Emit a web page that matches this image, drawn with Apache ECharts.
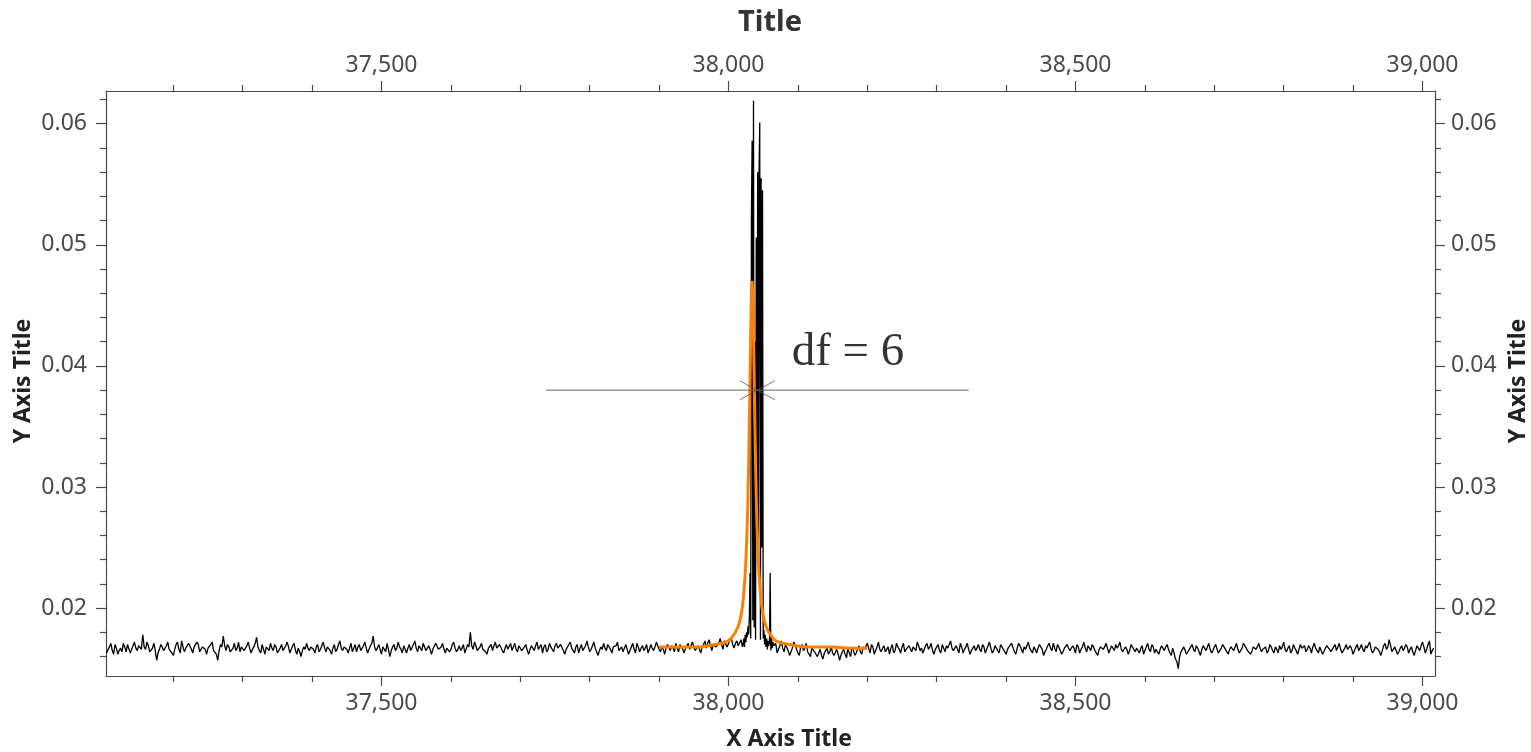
<!DOCTYPE html>
<html><head><meta charset="utf-8">
<script src="https://cdn.jsdelivr.net/npm/echarts@6/dist/echarts.min.js"></script>
<style>html,body{margin:0;padding:0;background:#fff}#c{width:1531px;height:752px}</style>
</head><body><div id="c"></div>
<script>
// ---- axis ranges & ticks ----
const xRange = [37103, 39018];
const yRange = [0.0144, 0.0627];
const xTickValues = [37500, 38000, 38500, 39000];
const yTickValues = [0.02, 0.03, 0.04, 0.05, 0.06];

// ---- measured spectrum (black) ----
const noiseLeftStart = 37104, noiseStep = 2;
const noiseLeft = [
0.0163,0.0166,0.0168,0.0171,0.0165,0.0162,0.0170,0.0167,0.0162,0.0165,0.0167,0.0164,0.0171,0.0168,0.0164,0.0170,0.0169,0.0163,0.0166,0.0169,
0.0172,0.0167,0.0165,0.0169,0.0170,0.0166,0.0178,0.0168,0.0166,0.0172,0.0169,0.0164,0.0163,0.0167,0.0171,0.0165,0.0157,0.0163,0.0166,0.0170,
0.0168,0.0165,0.0164,0.0169,0.0172,0.0166,0.0167,0.0163,0.0161,0.0166,0.0170,0.0172,0.0166,0.0163,0.0173,0.0168,0.0164,0.0167,0.0168,0.0171,
0.0171,0.0166,0.0163,0.0168,0.0167,0.0172,0.0170,0.0164,0.0165,0.0168,0.0169,0.0166,0.0162,0.0167,0.0168,0.0170,0.0172,0.0165,0.0166,0.0162,
0.0157,0.0165,0.0170,0.0168,0.0177,0.0169,0.0165,0.0170,0.0168,0.0164,0.0163,0.0167,0.0171,0.0165,0.0167,0.0172,0.0164,0.0168,0.0169,0.0165,
0.0166,0.0169,0.0172,0.0167,0.0163,0.0166,0.0168,0.0171,0.0176,0.0168,0.0165,0.0163,0.0170,0.0166,0.0162,0.0168,0.0167,0.0165,0.0171,0.0167,
0.0165,0.0170,0.0168,0.0163,0.0164,0.0167,0.0170,0.0165,0.0166,0.0169,0.0172,0.0168,0.0163,0.0166,0.0169,0.0171,0.0165,0.0162,0.0167,0.0164,
0.0160,0.0165,0.0168,0.0166,0.0171,0.0167,0.0165,0.0168,0.0169,0.0166,0.0163,0.0168,0.0170,0.0164,0.0166,0.0169,0.0172,0.0167,0.0164,0.0168,
0.0168,0.0165,0.0162,0.0167,0.0170,0.0164,0.0166,0.0170,0.0173,0.0167,0.0165,0.0168,0.0169,0.0166,0.0163,0.0167,0.0171,0.0164,0.0167,0.0170,
0.0164,0.0168,0.0170,0.0165,0.0166,0.0169,0.0172,0.0167,0.0163,0.0166,0.0169,0.0171,0.0177,0.0168,0.0165,0.0167,0.0170,0.0166,0.0162,0.0168,
0.0167,0.0164,0.0171,0.0166,0.0160,0.0165,0.0168,0.0170,0.0165,0.0167,0.0172,0.0168,0.0166,0.0163,0.0169,0.0166,0.0163,0.0167,0.0170,0.0165,
0.0166,0.0170,0.0173,0.0167,0.0164,0.0169,0.0168,0.0165,0.0171,0.0168,0.0165,0.0167,0.0169,0.0166,0.0162,0.0166,0.0167,0.0171,0.0170,0.0166,
0.0165,0.0168,0.0171,0.0166,0.0163,0.0167,0.0168,0.0164,0.0166,0.0170,0.0172,0.0167,0.0164,0.0166,0.0169,0.0165,0.0167,0.0170,0.0163,0.0166,
0.0170,0.0168,0.0180,0.0169,0.0166,0.0172,0.0169,0.0165,0.0164,0.0168,0.0171,0.0166,0.0167,0.0164,0.0162,0.0167,0.0168,0.0170,0.0165,0.0169,
0.0172,0.0167,0.0166,0.0170,0.0169,0.0165,0.0163,0.0167,0.0170,0.0166,0.0167,0.0171,0.0165,0.0168,0.0171,0.0166,0.0164,0.0169,0.0168,0.0165,
0.0166,0.0168,0.0170,0.0165,0.0162,0.0166,0.0169,0.0167,0.0165,0.0169,0.0172,0.0166,0.0167,0.0170,0.0163,0.0168,0.0170,0.0164,0.0166,0.0171,
0.0168,0.0166,0.0164,0.0169,0.0171,0.0167,0.0166,0.0170,0.0169,0.0165,0.0162,0.0166,0.0167,0.0170,0.0172,0.0167,0.0165,0.0163,0.0168,0.0170,
0.0163,0.0167,0.0170,0.0165,0.0166,0.0169,0.0173,0.0168,0.0164,0.0166,0.0169,0.0172,0.0167,0.0164,0.0161,0.0165,0.0168,0.0166,0.0171,0.0167,
0.0165,0.0170,0.0169,0.0166,0.0163,0.0168,0.0167,0.0169,0.0172,0.0165,0.0166,0.0168,0.0164,0.0167,0.0170,0.0166,0.0162,0.0165,0.0168,0.0171,
0.0166,0.0163,0.0171,0.0168,0.0164,0.0167,0.0169,0.0165,0.0167,0.0170,0.0163,0.0166,0.0170,0.0167,0.0165,0.0168,0.0172,0.0169,0.0166,0.0164,
0.0168,0.0166,0.0162,0.0167,0.0170,0.0168,0.0165,0.0169,0.0167,0.0164,0.0171,0.0167,0.0164,0.0170,0.0169,0.0166,0.0163,0.0167,0.0168,0.0171,
0.0166,0.0169,0.0172,0.0168,0.0165,0.0167,0.0169,0.0166,0.0163,0.0168,0.0170,0.0173,0.0167,0.0171,0.0174,0.0169,0.0165,0.0170,0.0171,0.0168,
0.0168,0.0171,0.0175,0.0170,0.0166,0.0173,0.0172,0.0168,0.0169,0.0174,0.0176,0.0170,0.0167,0.0171,0.0173,0.0169,0.0170,0.0174,0.0168
];
const peakStart = 38021, peakStep = 1;
const peakValues = [
0.0170,0.0175,0.0168,0.0178,0.0172,0.0180,0.0176,0.0185,0.0178,0.0192,
0.0229,0.0175,0.0523,0.0586,0.0190,0.0619,0.0184,0.0420,0.0174,0.0506,
0.0260,0.0560,0.0250,0.0560,0.0601,0.0174,0.0555,0.0250,0.0545,0.0175,
0.0182,0.0170,0.0178,0.0168,0.0175,0.0166,0.0173,0.0169,0.0171,0.0229,
0.0165,0.0176,0.0167,0.0172,0.0169
];
const noiseRightStart = 38066;
const noiseRight = [
0.0168,0.0171,0.0163,0.0166,0.0169,0.0173,0.0167,0.0164,0.0170,0.0169,0.0165,0.0161,0.0164,0.0167,0.0172,0.0170,0.0166,0.0163,0.0161,0.0168,
0.0170,0.0165,0.0167,0.0171,0.0164,0.0162,0.0160,0.0167,0.0166,0.0164,0.0162,0.0160,0.0163,0.0166,0.0161,0.0158,0.0163,0.0165,0.0167,0.0162,
0.0164,0.0168,0.0163,0.0161,0.0160,0.0166,0.0162,0.0157,0.0161,0.0164,0.0166,0.0162,0.0159,0.0167,0.0163,0.0160,0.0168,0.0165,0.0161,0.0163,
0.0166,0.0169,0.0164,0.0162,0.0168,0.0166,0.0165,0.0171,0.0167,0.0163,0.0170,0.0168,0.0162,0.0165,0.0168,0.0172,0.0166,0.0164,0.0167,0.0169,
0.0164,0.0166,0.0168,0.0162,0.0167,0.0170,0.0163,0.0165,0.0171,0.0168,0.0166,0.0163,0.0168,0.0171,0.0164,0.0166,0.0166,0.0169,0.0170,0.0164,
0.0168,0.0167,0.0165,0.0172,0.0169,0.0165,0.0167,0.0163,0.0164,0.0169,0.0171,0.0166,0.0168,0.0171,0.0165,0.0162,0.0166,0.0168,0.0170,0.0165,
0.0163,0.0170,0.0167,0.0164,0.0169,0.0167,0.0168,0.0173,0.0167,0.0165,0.0164,0.0169,0.0166,0.0163,0.0171,0.0168,0.0163,0.0166,0.0168,0.0171,
0.0166,0.0162,0.0165,0.0167,0.0169,0.0165,0.0167,0.0170,0.0166,0.0164,0.0170,0.0168,0.0163,0.0166,0.0169,0.0172,0.0167,0.0163,0.0165,0.0169,
0.0167,0.0165,0.0163,0.0170,0.0168,0.0166,0.0165,0.0162,0.0166,0.0168,0.0169,0.0171,0.0167,0.0164,0.0162,0.0167,0.0171,0.0169,0.0166,0.0163,
0.0168,0.0166,0.0169,0.0172,0.0167,0.0165,0.0163,0.0168,0.0166,0.0163,0.0167,0.0170,0.0168,0.0166,0.0161,0.0164,0.0166,0.0169,0.0171,0.0167,
0.0165,0.0171,0.0167,0.0164,0.0170,0.0168,0.0165,0.0162,0.0164,0.0167,0.0168,0.0170,0.0167,0.0165,0.0166,0.0169,0.0167,0.0163,0.0170,0.0168,
0.0163,0.0166,0.0168,0.0172,0.0167,0.0164,0.0169,0.0167,0.0165,0.0170,0.0168,0.0165,0.0164,0.0161,0.0166,0.0168,0.0169,0.0166,0.0168,0.0171,
0.0167,0.0163,0.0166,0.0169,0.0168,0.0165,0.0170,0.0167,0.0169,0.0172,0.0166,0.0164,0.0165,0.0168,0.0166,0.0162,0.0165,0.0170,0.0168,0.0166,
0.0164,0.0167,0.0166,0.0163,0.0167,0.0169,0.0162,0.0165,0.0168,0.0171,0.0166,0.0164,0.0170,0.0168,0.0163,0.0166,0.0165,0.0162,0.0166,0.0169,
0.0167,0.0165,0.0168,0.0170,0.0166,0.0163,0.0161,0.0167,0.0163,0.0158,0.0156,0.0150,0.0160,0.0164,0.0166,0.0168,0.0165,0.0162,0.0164,0.0166,
0.0168,0.0170,0.0166,0.0164,0.0169,0.0167,0.0164,0.0161,0.0166,0.0169,0.0167,0.0165,0.0168,0.0171,0.0166,0.0163,0.0165,0.0168,0.0170,0.0166,
0.0163,0.0164,0.0167,0.0170,0.0168,0.0166,0.0165,0.0162,0.0166,0.0168,0.0167,0.0165,0.0168,0.0171,0.0166,0.0163,0.0165,0.0167,0.0171,0.0169,
0.0167,0.0165,0.0166,0.0162,0.0164,0.0168,0.0169,0.0166,0.0168,0.0171,0.0167,0.0164,0.0166,0.0167,0.0168,0.0163,0.0165,0.0170,0.0168,0.0165,
0.0163,0.0168,0.0166,0.0163,0.0169,0.0166,0.0168,0.0172,0.0166,0.0164,0.0167,0.0169,0.0163,0.0165,0.0170,0.0167,0.0165,0.0162,0.0166,0.0170,
0.0167,0.0166,0.0169,0.0164,0.0166,0.0169,0.0167,0.0163,0.0168,0.0171,0.0167,0.0165,0.0163,0.0168,0.0165,0.0162,0.0164,0.0167,0.0169,0.0170,
0.0166,0.0164,0.0166,0.0168,0.0170,0.0165,0.0168,0.0171,0.0166,0.0163,0.0164,0.0167,0.0170,0.0166,0.0165,0.0169,0.0166,0.0162,0.0165,0.0168,
0.0170,0.0165,0.0167,0.0170,0.0166,0.0164,0.0169,0.0167,0.0170,0.0172,0.0166,0.0163,0.0165,0.0168,0.0169,0.0166,0.0164,0.0161,0.0165,0.0169,
0.0171,0.0166,0.0168,0.0174,0.0169,0.0164,0.0166,0.0168,0.0165,0.0162,0.0164,0.0167,0.0169,0.0165,0.0167,0.0170,0.0168,0.0163,0.0166,0.0168,
0.0164,0.0161,0.0165,0.0169,0.0167,0.0165,0.0169,0.0172,0.0168,0.0163,0.0166,0.0170,0.0173,0.0162,0.0165,0.0167
];

// ---- fitted curve (orange) ----
const fitX = [37900,37910,37920,37930,37940,37950,37960,37970,37980,37990,38000,38005,38010,38014,38017,
  38020,38022,38024,38025,38026,38027,38028,38029,38030,38031,38032,38033,38034,38035,38036,38037,38038,
  38039,38040,38041,38042,38043,38044,38046,38048,38051,38054,38058,38063,38068,38078,38088,38098,38110,
  38130,38150,38175,38200];
const fitY = [0.0168,0.0168,0.0168,0.0168,0.0168,0.0168,0.0168,0.0169,0.0170,0.0171,0.0173,0.0176,0.0180,0.0185,0.0191,
  0.0201,0.0212,0.0228,0.0239,0.0252,0.0269,0.0291,0.0319,0.0352,0.0390,0.0428,0.0458,0.0470,0.0458,0.0428,0.0390,0.0352,
  0.0319,0.0291,0.0269,0.0252,0.0239,0.0228,0.0212,0.0201,0.0191,0.0185,0.0180,0.0176,0.0173,0.0171,0.0170,0.0169,0.0168,
  0.0168,0.0168,0.0167,0.0167];

// ---- annotation ----
const markerLineX = [37737, 38346];
const markerY = 0.038;
const markerX = 38041.5;
const markerText = 'df = 6';
const markerTextPos = [38091, 0.0411];

const chartTitle = 'Title', xTitle = 'X Axis Title', yTitle = 'Y Axis Title';

function seg(start, step, arr) { return arr.map((v, i) => [start + i * step, v]); }
const blackData = seg(noiseLeftStart, noiseStep, noiseLeft)
  .concat(seg(peakStart, peakStep, peakValues))
  .concat(seg(noiseRightStart, noiseStep, noiseRight));
const fitData = fitX.map((x, i) => [x, fitY[i]]);

const axisColor = '#4a4a4a';
const labelFont = { fontFamily: 'Noto Sans', fontSize: 23, color: '#4a4a4a' };
function fmtX(v) { return xTickValues.indexOf(v) >= 0 ? String(v).replace(/(\d)(\d{3})$/, '$1,$2') : ''; }
function fmtY(v) { return v.toFixed(2); }

function xAxis(pos, margin) {
  return {
    type: 'value', position: pos, min: xRange[0], max: xRange[1], splitNumber: 4,
    axisLine: { show: true, onZero: false, lineStyle: { color: axisColor, width: 1.2 } },
    axisTick: { show: true, length: 10, customValues: xTickValues, lineStyle: { color: axisColor, width: 1.2 } },
    minorTick: { show: true, splitNumber: 5, length: 6, lineStyle: { color: axisColor, width: 1.2 } },
    axisLabel: Object.assign({ customValues: xTickValues, formatter: fmtX, margin: margin }, labelFont),
    splitLine: { show: false }, minorSplitLine: { show: false }
  };
}
function yAxis(pos, margin) {
  return {
    type: 'value', position: pos, min: yRange[0], max: yRange[1], splitNumber: 5,
    axisLine: { show: true, onZero: false, lineStyle: { color: axisColor, width: 1.2 } },
    axisTick: { show: true, length: 10, customValues: yTickValues, lineStyle: { color: axisColor, width: 1.2 } },
    minorTick: { show: true, splitNumber: 5, length: 6, lineStyle: { color: axisColor, width: 1.2 } },
    axisLabel: Object.assign({ customValues: yTickValues, formatter: fmtY, margin: margin }, labelFont),
    splitLine: { show: false }, minorSplitLine: { show: false }
  };
}

const chart = echarts.init(document.getElementById('c'), null, { renderer: 'canvas' });
chart.setOption({
  animation: false,
  backgroundColor: '#fff',
  grid: { left: 106, right: 96, top: 91, bottom: 76, containLabel: false },
  xAxis: [xAxis('bottom', 16), xAxis('top', 14)],
  yAxis: [yAxis('left', 19), yAxis('right', 16)],
  graphic: [
    { type: 'text', x: 770, y: 23, style: { text: chartTitle, font: 'bold 29px "Noto Sans"', fill: '#333', align: 'center', verticalAlign: 'middle' } },
    { type: 'text', x: 789, y: 739, style: { text: xTitle, font: 'bold 23px "Noto Sans"', fill: '#222', align: 'center', verticalAlign: 'middle' } },
    { type: 'text', x: 23, y: 381, rotation: Math.PI / 2, style: { text: yTitle, font: 'bold 23px "Noto Sans"', fill: '#222', align: 'center', verticalAlign: 'middle' } },
    { type: 'text', x: 1518, y: 381, rotation: Math.PI / 2, style: { text: yTitle, font: 'bold 23px "Noto Sans"', fill: '#222', align: 'center', verticalAlign: 'middle' } }
  ],
  series: [
    { type: 'line', name: 'data', xAxisIndex: 0, yAxisIndex: 0, data: blackData, symbol: 'none', z: 2,
      lineStyle: { color: '#000', width: 1.3 } },
    { type: 'line', name: 'fit', xAxisIndex: 0, yAxisIndex: 0, data: fitData, symbol: 'none', z: 3,
      lineStyle: { color: '#ff8000', width: 3 } },
    { type: 'line', name: 'width', xAxisIndex: 0, yAxisIndex: 0, symbol: 'none', z: 4,
      data: markerLineX.map(x => [x, markerY]), lineStyle: { color: '#666', width: 1 } },
    { type: 'scatter', name: 'star', xAxisIndex: 0, yAxisIndex: 0, z: 5,
      data: [[markerX, markerY]], symbol: 'path://M0 0L35 19M0 19L35 0', symbolSize: [35, 19],
      itemStyle: { color: 'transparent', borderColor: '#555', borderWidth: 1 } },
    { type: 'scatter', name: 'label', xAxisIndex: 0, yAxisIndex: 0, z: 6,
      data: [markerTextPos], symbolSize: 0,
      label: { show: true, formatter: markerText, position: 'right', distance: 0,
        fontFamily: 'Liberation Serif', fontSize: 47, color: '#000' } }
  ]
});
</script></body></html>
